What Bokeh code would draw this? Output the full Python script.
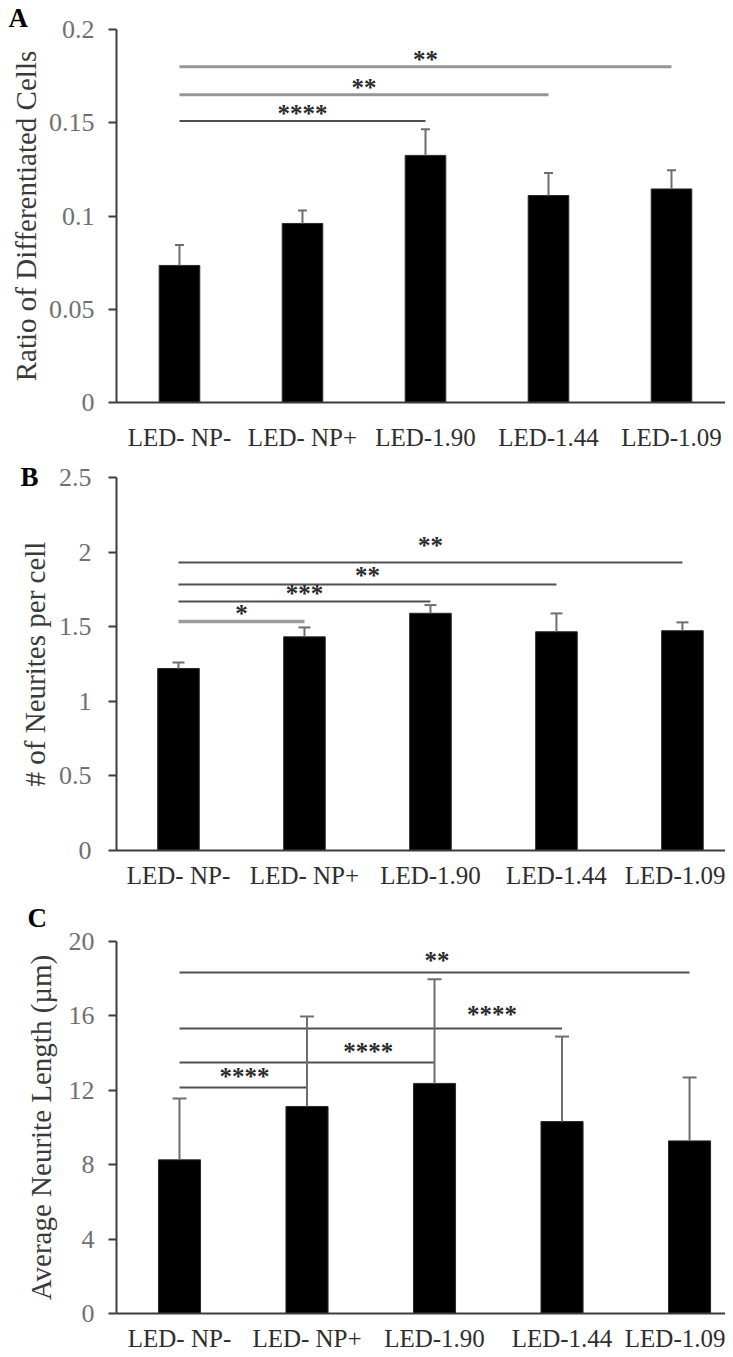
from bokeh.plotting import figure
from bokeh.layouts import column
from bokeh.models import (FixedTicker, Whisker, TeeHead, ColumnDataSource,
                          Range1d)
from bokeh.core.properties import value
from bokeh.embed import file_html
from bokeh.resources import INLINE

# ---------------- data ----------------
categories = ["LED- NP-", "LED- NP+", "LED-1.90", "LED-1.44", "LED-1.09"]

a_mean = [0.0735, 0.096, 0.1325, 0.111, 0.1145]
a_err = [0.011, 0.007, 0.014, 0.012, 0.010]
a_ticks = [0, 0.05, 0.1, 0.15, 0.2]
a_tick_labels = ["0", "0.05", "0.1", "0.15", "0.2"]
a_sig_end = [4, 3, 2]
a_sig_y = [0.18, 0.165, 0.151]
a_sig_text = ["**", "**", "****"]
a_star_y = [0.184, 0.169, 0.155]

b_mean = [1.22, 1.432, 1.59, 1.466, 1.473]
b_err = [0.04, 0.063, 0.055, 0.123, 0.056]
b_ticks = [0, 0.5, 1, 1.5, 2, 2.5]
b_tick_labels = ["0", "0.5", "1", "1.5", "2", "2.5"]
b_sig_end = [4, 3, 2, 1]
b_sig_y = [1.93, 1.783, 1.669, 1.535]
b_sig_text = ["**", "**", "***", "*"]
b_star_y = [2.044, 1.843, 1.722, 1.588]

c_mean = [8.26, 11.13, 12.37, 10.32, 9.28]
c_err = [3.3, 4.84, 5.6, 4.57, 3.41]
c_ticks = [0, 4, 8, 12, 16, 20]
c_tick_labels = ["0", "4", "8", "12", "16", "20"]
c_sig_end = [4, 3, 2, 1]
c_sig_y = [18.33, 15.32, 13.49, 12.15]
c_sig_text = ["**", "****", "****", "****"]
c_star_y = [19.0, 16.08, 14.09, 12.74]
c_star_x = [2.02, 2.45, 1.48, 0.51]

SERIF = "Liberation Serif"


def panel(letter, means, errs, ticks, tick_labels, ylabel,
          sig_end, sig_y, sig_text, star_y, star_x, sig_colors, sig_widths,
          fw, fh, bl, bt, bb, x0, x1, ystand, ylab_stand, xstand,
          err_color, err_width, cap, letter_standoff):
    idx = list(range(len(categories)))
    ymax = ticks[-1]
    p = figure(frame_width=fw, frame_height=fh,
               min_border_left=bl, min_border_right=0,
               min_border_top=bt, min_border_bottom=bb,
               x_range=Range1d(x0, x1), y_range=Range1d(0, ymax),
               output_backend="svg", toolbar_location=None)
    p.outline_line_color = None
    p.background_fill_color = "white"
    p.border_fill_color = "white"

    # panel letter as the figure title, pulled to the left edge
    p.title.text = letter
    p.title.align = "left"
    p.title.offset = -(bl + 8 - 16)
    p.title.text_font = SERIF
    p.title.text_font_size = "27px"
    p.title.text_font_style = "bold"
    p.title.text_color = "black"
    p.title.standoff = letter_standoff

    # bars
    p.vbar(x=idx, top=means, width=0.33, fill_color="black",
           line_color="#2a2a2a", line_width=1)

    # error bars (upper only)
    src = ColumnDataSource(dict(base=idx, lower=means,
                                upper=[m + e for m, e in zip(means, errs)]))
    w = Whisker(base="base", lower="lower", upper="upper", source=src,
                line_color=err_color, line_width=err_width,
                upper_head=TeeHead(size=cap, line_color=err_color,
                                   line_width=err_width),
                lower_head=None, level="glyph")
    p.add_layout(w)

    # significance brackets
    p.segment(x0=[0] * len(sig_end), y0=sig_y, x1=sig_end, y1=sig_y,
              line_color=sig_colors, line_width=sig_widths)
    if star_x is None:
        star_x = [(0 + e) / 2 for e in sig_end]
    p.text(x=star_x, y=star_y, text=sig_text, text_align="center",
           text_baseline="middle", text_font=value(SERIF),
           text_font_size="25px", text_font_style="bold", text_color="#2a2a2a")

    # axes
    xa = p.xaxis[0]
    xa.ticker = FixedTicker(ticks=idx)
    xa.major_label_overrides = {i: c for i, c in zip(idx, categories)}
    xa.major_tick_line_color = None
    xa.minor_tick_line_color = None
    xa.axis_line_color = "#3c3c3c"
    xa.axis_line_width = 2
    xa.major_label_text_font = SERIF
    xa.major_label_text_font_size = "25px"
    xa.major_label_text_color = "#2e2e2e"
    xa.major_label_standoff = xstand

    ya = p.yaxis[0]
    ya.ticker = FixedTicker(ticks=ticks)
    ya.major_label_overrides = {t: l for t, l in zip(ticks, tick_labels)}
    ya.major_tick_out = 8
    ya.major_tick_in = 0
    ya.minor_tick_line_color = None
    ya.major_tick_line_color = "#3c3c3c"
    ya.major_tick_line_width = 2
    ya.axis_line_color = "#3c3c3c"
    ya.axis_line_width = 2
    ya.major_label_text_font = SERIF
    ya.major_label_text_font_size = "26px"
    ya.major_label_text_color = "#707070"
    ya.major_label_standoff = ystand
    ya.axis_label = ylabel
    ya.axis_label_text_font = SERIF
    ya.axis_label_text_font_size = "29px"
    ya.axis_label_text_font_style = "normal"
    ya.axis_label_text_color = "#3a3a3a"
    ya.axis_label_standoff = ylab_stand

    p.xgrid.grid_line_color = None
    p.ygrid.ticker = FixedTicker(ticks=[ymax])
    p.ygrid.grid_line_color = "#3c3c3c"
    p.ygrid.grid_line_width = 2.5
    p.ygrid.level = "overlay"
    return p


pa = panel("A", a_mean, a_err, a_ticks, a_tick_labels,
           "Ratio of Differentiated Cells",
           a_sig_end, a_sig_y, a_sig_text, a_star_y, None,
           ["#969696", "#969696", "#505050"], [3, 3, 2],
           fw=609, fh=373, bl=116, bt=29, bb=57, x0=-0.512, x1=4.439,
           ystand=14, ylab_stand=4, xstand=15,
           err_color="#6e6e6e", err_width=2, cap=9, letter_standoff=-6)

pb = panel("B", b_mean, b_err, b_ticks, b_tick_labels,
           "# of Neurites per cell",
           b_sig_end, b_sig_y, b_sig_text, b_star_y, None,
           ["#505050", "#505050", "#505050", "#9a9a9a"], [2, 2, 2, 3.5],
           fw=621, fh=373, bl=104, bt=18, bb=34, x0=-0.492, x1=4.437,
           ystand=17, ylab_stand=5, xstand=5,
           err_color="#6e6e6e", err_width=2, cap=12, letter_standoff=-28)

pc = panel("C", c_mean, c_err, c_ticks, c_tick_labels,
           "Average Neurite Length (µm)",
           c_sig_end, c_sig_y, c_sig_text, c_star_y, c_star_x,
           ["#505050"] * 4, [2, 2, 2, 2],
           fw=628, fh=372, bl=97, bt=50, bb=35, x0=-0.494, x1=4.431,
           ystand=14, ylab_stand=9, xstand=5,
           err_color="#6e6e6e", err_width=2, cap=14, letter_standoff=18)

layout = column(pa, pb, pc, spacing=0)
open("out.html", "w").write(file_html(layout, INLINE))
